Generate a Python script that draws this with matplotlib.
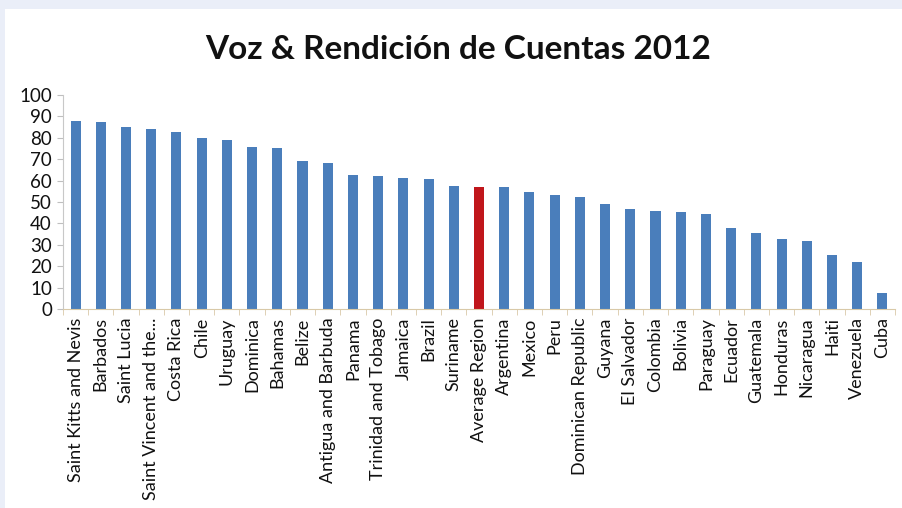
import numpy as np
import matplotlib.pyplot as plt
from matplotlib.patches import Rectangle

countries = [
    "Saint Kitts and Nevis", "Barbados", "Saint Lucia", "Saint Vincent and the...",
    "Costa Rica", "Chile", "Uruguay", "Dominica", "Bahamas", "Belize",
    "Antigua and Barbuda", "Panama", "Trinidad and Tobago", "Jamaica", "Brazil",
    "Suriname", "Average Region", "Argentina", "Mexico", "Peru",
    "Dominican Republic", "Guyana", "El Salvador", "Colombia", "Bolivia",
    "Paraguay", "Ecuador", "Guatemala", "Honduras", "Nicaragua", "Haiti",
    "Venezuela", "Cuba",
]
scores = [
    88.0, 87.4, 85.2, 84.3, 82.7, 79.8, 79.0, 75.6, 75.4, 69.2,
    68.3, 62.4, 62.1, 61.1, 60.7, 57.5, 56.9, 56.9, 54.6, 53.3,
    52.3, 49.1, 46.7, 45.6, 45.1, 44.3, 37.9, 35.3, 32.5, 31.6,
    25.3, 21.8, 7.5,
]
highlight = "Average Region"
yticks = list(range(0, 101, 10))

plt.rcParams['font.family'] = ['Lato', 'DejaVu Sans']

fig = plt.figure(figsize=(9.02, 5.08), dpi=100, facecolor='#eaeef8')
# white slide panel, behind the axes
fig.patches.append(Rectangle((5 / 902, 0), 1, 1 - 9 / 508, transform=fig.transFigure,
                             facecolor='white', edgecolor='none', zorder=-10))

ax = fig.add_axes([63 / 902, 1 - 309 / 508, (895 - 63) / 902, (309 - 95) / 508])
ax.set_facecolor('none')

x = np.arange(len(countries))
colors = ['#c0161b' if c == highlight else '#4a7ebb' for c in countries]
ax.bar(x, scores, width=0.4, color=colors, zorder=2)

ax.set_xlim(-0.5, len(countries) - 0.5)
ax.set_ylim(0, 100)
ax.set_yticks(yticks)
ax.set_xticks(x)
ax.set_xticklabels(countries, rotation=90, fontsize=13, color='#111111')
ax.tick_params(axis='x', length=0, pad=6)
ax.set_xticks(np.arange(-0.5, len(countries), 1), minor=True)
ax.tick_params(axis='x', which='minor', length=4, color='#d9c9a8')
ax.tick_params(axis='y', labelsize=13.5, length=4, color='#bfbfbf', labelcolor='#111111', pad=4)

for s in ['top', 'right']:
    ax.spines[s].set_visible(False)
ax.spines['left'].set_color('#c8c8c8')
ax.spines['bottom'].set_color('#d9c9a8')

fig.text(0.508, 0.903, "Voz & Rendición de Cuentas 2012", ha='center', va='center',
         fontsize=24, fontweight='bold', color='#111111')

fig.savefig('out.png', dpi=100, facecolor=fig.get_facecolor())
